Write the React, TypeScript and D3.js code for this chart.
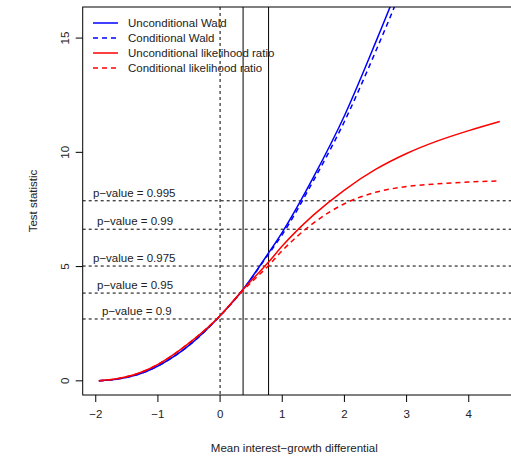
import * as d3 from "d3";

const xs = [-1.95, -1.6, -1.2, -1, -0.5, 0, 0.37, 0.78, 1, 1.5, 2, 2.5, 3, 3.5, 4, 4.5];
const uncondWald = [0, 0.1, 0.4, 0.65, 1.55, 2.85, 4.0, 5.6, 6.5, 8.9, 11.6, 14.8, 18.2, 22, 26, 30];
const condWald = [0, 0.1, 0.4, 0.65, 1.55, 2.85, 4.0, 5.55, 6.4, 8.75, 11.35, 14.4, 17.7, 21.4, 25.3, 29.3];
const uncondLR = [0, 0.12, 0.45, 0.72, 1.65, 2.85, 4.0, 5.2, 5.9, 7.25, 8.35, 9.25, 9.95, 10.5, 10.95, 11.35];
const condLR = [0, 0.12, 0.45, 0.72, 1.65, 2.85, 3.95, 5.05, 5.7, 6.9, 7.75, 8.25, 8.5, 8.62, 8.7, 8.75];
const pvals = ["0.9", "0.95", "0.975", "0.99", "0.995"];
const crit = [2.706, 3.841, 5.024, 6.635, 7.879];
const labelX = [102, 97, 93, 97, 93];
const vlines = [0.37, 0.78];
const xTicks = [-2, -1, 0, 1, 2, 3, 4];
const yTicks = [0, 5, 10, 15];
const legend = [
  { label: "Unconditional Wald", color: "blue", dash: "" },
  { label: "Conditional Wald", color: "blue", dash: "5,4" },
  { label: "Unconditional likelihood ratio", color: "red", dash: "" },
  { label: "Conditional likelihood ratio", color: "red", dash: "5,4" },
];

export default function App() {
  const L = 82.7, R = 516, T = 7, B = 395;
  const x = d3.scaleLinear().domain([-2.21, 4.76]).range([L, R]);
  const y = d3.scaleLinear().domain([-0.62, 16.36]).range([B, T]);
  const line = (vals: number[]) =>
    d3.line<number>().x((_, i) => x(xs[i])).y((v) => y(v)).curve(d3.curveMonotoneX)(vals) || "";
  const series = [
    { v: uncondWald, c: "blue", d: "" },
    { v: condWald, c: "blue", d: "5,4" },
    { v: uncondLR, c: "red", d: "" },
    { v: condLR, c: "red", d: "5,4" },
  ];
  const font = "Liberation Sans, Arial, sans-serif";
  return (
    <svg width={511} height={461} style={{ position: "absolute", left: 0, top: 0 }} fontFamily={font} fontSize={11.5}>
      <rect width={511} height={461} fill="white" />
      <defs>
        <clipPath id="c"><rect x={L} y={T} width={R - L} height={B - T} /></clipPath>
      </defs>
      <g clipPath="url(#c)">
        {crit.map((c, i) => (
          <line key={i} x1={L} x2={R} y1={y(c)} y2={y(c)} stroke="black" strokeDasharray="3,3" />
        ))}
        <line x1={x(0)} x2={x(0)} y1={T} y2={B} stroke="black" strokeDasharray="3,3" />
        {vlines.map((v) => (
          <line key={v} x1={x(v)} x2={x(v)} y1={T} y2={B} stroke="black" />
        ))}
        {series.map((s, i) => (
          <path key={i} d={line(s.v)} fill="none" stroke={s.c} strokeWidth={1.5} strokeDasharray={s.d} />
        ))}
      </g>
      {crit.map((c, i) => (
        <text key={i} x={labelX[i]} y={y(c) - 4} fill="#222">p−value = {pvals[i]}</text>
      ))}
      <rect x={L} y={T} width={R - L} height={B - T} fill="none" stroke="black" />
      {xTicks.map((t) => (
        <g key={t}>
          <line x1={x(t)} x2={x(t)} y1={B} y2={B + 7} stroke="black" />
          <text x={x(t)} y={B + 23} textAnchor="middle" fill="#222">{t < 0 ? `−${-t}` : t}</text>
        </g>
      ))}
      {yTicks.map((t) => (
        <g key={t}>
          <line x1={L - 7} x2={L} y1={y(t)} y2={y(t)} stroke="black" />
          <text transform={`translate(${L - 14},${y(t)}) rotate(-90)`} textAnchor="middle" fill="#222">{t}</text>
        </g>
      ))}
      <text x={(L + R) / 2 - 5} y={452} textAnchor="middle" fill="#222">Mean interest−growth differential</text>
      <text transform={`translate(37,${(T + B) / 2}) rotate(-90)`} textAnchor="middle" fill="#222">Test statistic</text>
      {legend.map((l, i) => (
        <g key={i}>
          <line x1={93} x2={118} y1={23 + i * 15} y2={23 + i * 15} stroke={l.color} strokeWidth={1.5} strokeDasharray={l.dash} />
          <text x={128} y={27 + i * 15} fill="#222">{l.label}</text>
        </g>
      ))}
    </svg>
  );
}
